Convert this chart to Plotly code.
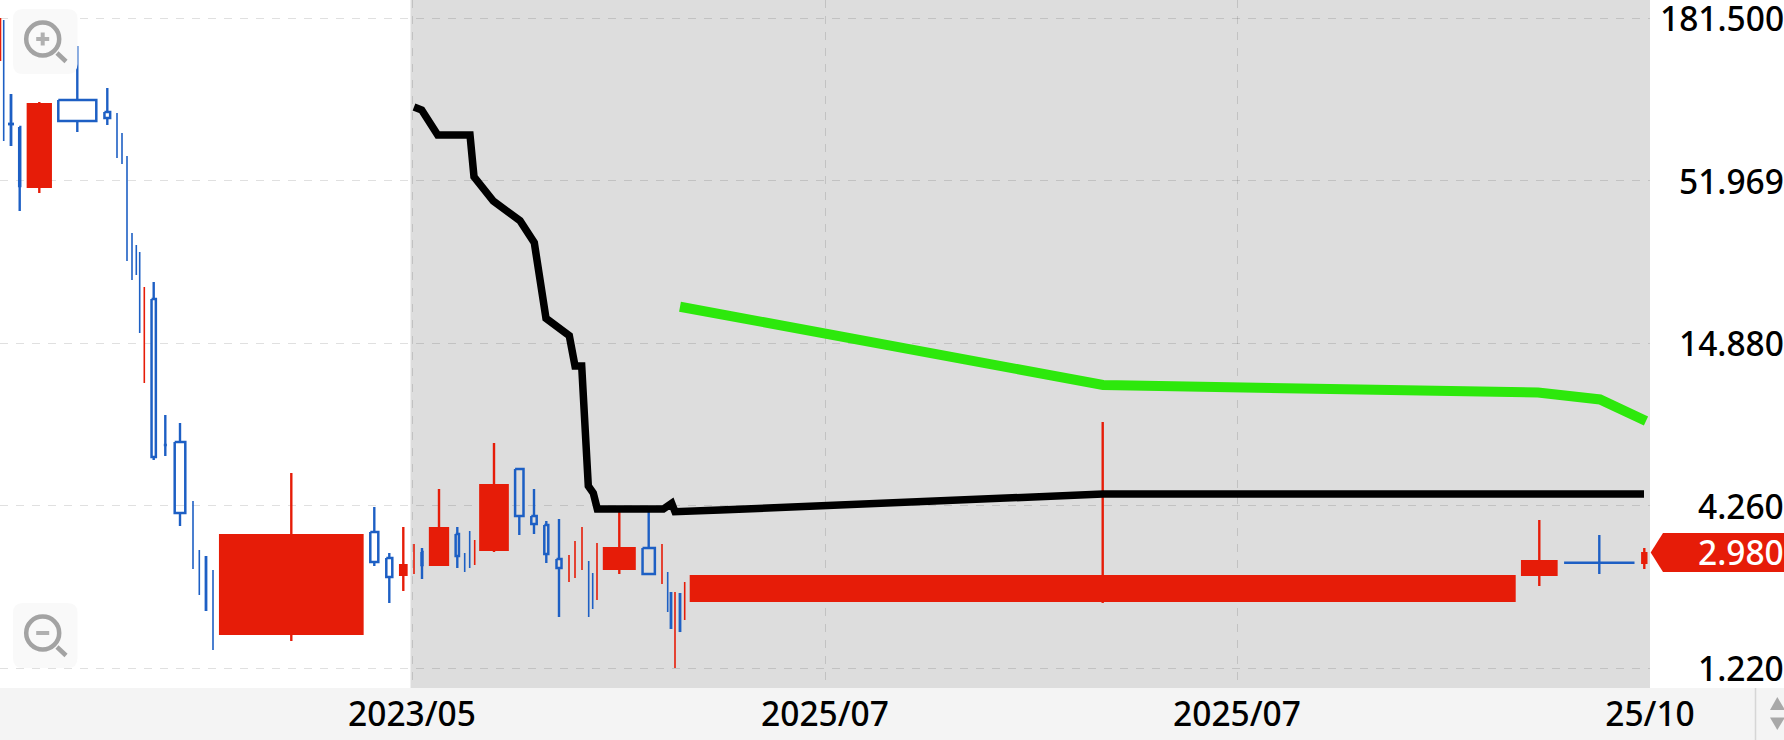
import math
import plotly.graph_objects as go

# Equivolume candles: position along the volume-scaled axis, and span of each bar
POSITION = [0.5,3.7,11,19.7,39.3,77.3,107.3,117,122,127,132,136.3,139.7,144.3,153.7,165.3,180,193,199.3,206,213,
            291.3,374.3,389.3,403.3,414,422,439,457.3,464.7,469.7,474.7,494,519.3,534,546.3,559,569,575,582,588.7,
            592.7,597,619.3,648.7,662,667.7,671,675,680,684.7,1102.7,1539.3,1599.3,1644.3]
SPAN = [1,1,2,3,25.3,40,7.7,1,1,1,1,1,1,1,6.3,5,12.6,1,1,2,1,
        144.7,10,8,8.7,1,3,20.3,5.3,1,1,1,29.7,10.4,7.4,6,7,1,1,1,1,
        1,1,33,14.3,1,1,2,1,2,1,826,36.7,72.4,6.4]
HIGH = [181.476,178.704,101.113,78.436,95.076,146.297,105.892,87.359,74.896,62.747,34.693,31.632,29.973,22.896,23.794,8.55,8.039,4.411,3.025,2.889,2.594,
        5.471,4.212,2.956,3.611,3.168,3.072,4.838,3.611,2.956,3.501,3.267,6.892,5.642,4.838,3.782,3.84,2.911,3.242,3.611,2.78,
        2.534,3.193,4.244,4.147,3.168,2.554,2.19,2.19,2.173,2.365,8.101,3.811,3.395,3.072]
LOW = [130.348,70.424,67.766,41.093,47.198,75.475,79.652,61.788,59.0,27.968,24.163,25.111,16.07,10.937,6.047,6.236,3.639,2.614,2.14,1.892,1.401,
       1.502,2.675,2.012,2.207,2.515,2.42,2.675,2.634,2.554,2.634,2.695,2.979,3.395,3.422,2.737,1.806,2.365,2.439,2.594,1.806,
       1.921,2.059,2.515,2.515,2.329,1.877,1.647,1.22,1.609,1.765,2.012,2.293,2.515,2.614]
BODY_TOP = [181.476,178.704,80.268,78.436,94.347,96.551,88.034,87.359,74.896,62.747,34.693,31.632,29.973,22.896,20.876,6.787,6.946,4.411,3.025,2.889,2.594,
            3.422,3.475,2.845,2.716,3.168,2.979,3.611,3.422,2.956,3.501,3.267,5.027,5.642,3.93,3.667,2.823,2.911,3.242,3.611,2.78,
            2.534,3.193,3.096,3.072,3.168,2.554,2.19,2.19,2.173,2.365,2.496,2.801,2.745,2.979]
BODY_BOTTOM = [130.348,70.424,80.268,49.811,49.05,82.143,84.061,61.788,59.0,27.968,24.163,25.111,16.07,10.937,6.188,6.787,4.022,2.614,2.14,1.892,1.401,
               1.573,2.758,2.458,2.477,2.515,2.695,2.675,2.889,2.554,2.634,2.695,3.002,3.93,3.695,2.933,2.634,2.365,2.439,2.594,1.806,
               1.921,2.059,2.594,2.515,2.329,1.877,1.647,1.22,1.609,1.765,2.027,2.477,2.73,2.716]
KIND = ["r","b","b","b","r","b","b","b","b","b","b","b","b","r","b","b","b","b","b","b","b",
        "r","b","b","r","r","b","r","b","b","b","r","r","b","b","b","b","r","r","r","b",
        "b","r","r","b","r","b","b","r","b","r","r","r","b","r"]

BLACK_X = [414,421.7,437.7,470,474,493.3,520,534.3,546,560,569.3,575,581.7,588.3,593.3,597.3,663.3,671.7,675,720,1103,1644]
BLACK_Y = [91.487,89.399,73.753,73.753,53.506,44.38,38.137,32.197,17.995,16.611,15.739,12.466,12.466,4.95,4.691,4.147,4.147,4.333,4.062,4.116,4.655,4.655]
GREEN_X = [680,1103,1538,1600,1646]
GREEN_Y = [19.675,10.77,10.166,9.633,8.164]

PRICE_TICKS = [181.5, 51.969, 14.88, 4.26, 1.22]
PRICE_LABELS = ["181.5000", "51.9690", "14.8800", "4.2600", "1.2200"]
LAST_PRICE = 2.98
LAST_LABEL = "2.9800"
DATE_TICKS = [412, 825, 1237, 1650]
DATE_LABELS = ["2023/05", "2025/07", "2025/07", "25/10"]

RED, BLUE, GREEN = "#e61c08", "#1d5fc4", "#2de80c"
W, H, PW, PH = 1784, 740, 1650, 688
FONT = "Noto Sans"
TEXT_SIZE = 33.5
TEXT_WEIGHT = 500
def X(px): return px / PW
def Y(py): return 1 - py / PH

fig = go.Figure()

def add_line(xs, ys, color, width, fill=None):
    fig.add_trace(go.Scatter(x=xs, y=ys, mode="lines", fill=fill, fillcolor=color if fill else None,
                             line=dict(color=color, width=width), hoverinfo="skip", showlegend=False))

thin_x, thin_y = {"r": [], "b": []}, {"r": [], "b": []}
mid_x, mid_y = {"r": [], "b": []}, {"r": [], "b": []}
wick_x, wick_y = {"r": [], "b": []}, {"r": [], "b": []}
hollow_x, hollow_y, solid_x, solid_y = [], [], [], []
for px, sp, hi, lo, top, bot, k in zip(POSITION, SPAN, HIGH, LOW, BODY_TOP, BODY_BOTTOM, KIND):
    if sp <= 2:
        tx, ty = (thin_x, thin_y) if sp <= 1 else (mid_x, mid_y)
        tx[k] += [px, px, None]
        ty[k] += [hi, lo, None]
        if top == bot:
            mid_x[k] += [px - 3, px + 3, None]; mid_y[k] += [top, top, None]
        continue
    wick_x[k] += [px, px, None, px, px, None]
    wick_y[k] += [hi, top, None, bot, lo, None]
    if k == "r":
        solid_x += [px - sp/2, px + sp/2, px + sp/2, px - sp/2, px - sp/2, None]
        solid_y += [top, top, bot, bot, top, None]
    else:
        h = max(sp - 2, 0.5) / 2
        hollow_x += [px - h, px + h, px + h, px - h, px - h, None]
        hollow_y += [top, top, bot, bot, top, None]

add_line(solid_x, solid_y, RED, 0, fill="toself")
for k, c in (("r", RED), ("b", BLUE)):
    add_line(thin_x[k], thin_y[k], c, 1.6)
    add_line(mid_x[k], mid_y[k], c, 2.8)
    add_line(wick_x[k], wick_y[k], c, 2.4)
add_line(hollow_x, hollow_y, BLUE, 2.5)
add_line(BLACK_X, BLACK_Y, "#000000", 7.5)
add_line(GREEN_X, GREEN_Y, GREEN, 10)

shapes = [
    dict(type="rect", xref="paper", yref="paper", x0=X(410.5), x1=1, y0=0, y1=1,
         fillcolor="#dddddd", line_width=0, layer="below"),
    dict(type="rect", xref="paper", yref="paper", x0=0, x1=X(W), y0=Y(H), y1=Y(PH),
         fillcolor="#f4f4f4", line_width=0, layer="below"),
    dict(type="line", xref="paper", yref="paper", x0=X(1755.5), x1=X(1755.5), y0=Y(688), y1=Y(H),
         line=dict(color="#d6d6d6", width=1.5)),
    dict(type="path", xref="paper", yref="paper",
         path=f"M {X(1770)} {Y(710)} L {X(1777.3)} {Y(697)} L {X(1785)} {Y(710)} Z", fillcolor="#a8a8a8", line_width=0),
    dict(type="path", xref="paper", yref="paper",
         path=f"M {X(1770)} {Y(717.5)} L {X(1777.3)} {Y(730)} L {X(1785)} {Y(717.5)} Z", fillcolor="#a8a8a8", line_width=0),
    dict(type="path", xref="paper", yref="paper",
         path=f"M {X(1650.7)} {Y(552.5)} L {X(1663)} {Y(533)} L {X(W)} {Y(533)} L {X(W)} {Y(572)} L {X(1663)} {Y(572)} Z",
         fillcolor=RED, line_width=0),
]

def zoom_icon(top, plus):
    l, r, b = 13, 77.5, top + 65
    c = 10
    shapes.append(dict(type="path", xref="paper", yref="paper",
        path=(f"M {X(l+c)} {Y(top)} L {X(r-c)} {Y(top)} Q {X(r)} {Y(top)} {X(r)} {Y(top+c)} "
              f"L {X(r)} {Y(b-c)} Q {X(r)} {Y(b)} {X(r-c)} {Y(b)} L {X(l+c)} {Y(b)} "
              f"Q {X(l)} {Y(b)} {X(l)} {Y(b-c)} L {X(l)} {Y(top+c)} Q {X(l)} {Y(top)} {X(l+c)} {Y(top)} Z"),
        fillcolor="#f9f9f9", line_width=0))
    cx, cy = 42.7, top + 30
    rad = 16.5
    shapes.append(dict(type="circle", xref="paper", yref="paper", x0=X(cx-rad), x1=X(cx+rad), y0=Y(cy+rad), y1=Y(cy-rad),
                       line=dict(color="#a3a3a3", width=4.5)))
    shapes.append(dict(type="line", xref="paper", yref="paper", x0=X(57), x1=X(66), y0=Y(cy+14), y1=Y(cy+22.5),
                       line=dict(color="#a3a3a3", width=4.5)))
    shapes.append(dict(type="line", xref="paper", yref="paper", x0=X(cx-6.5), x1=X(cx+6.5), y0=Y(cy), y1=Y(cy),
                       line=dict(color="#b0b0b0", width=4)))
    if plus:
        shapes.append(dict(type="line", xref="paper", yref="paper", x0=X(cx), x1=X(cx), y0=Y(cy-6.5), y1=Y(cy+6.5),
                           line=dict(color="#b0b0b0", width=4)))

zoom_icon(9, True)
zoom_icon(603, False)

annotations = [dict(xref="paper", yref="y", x=X(1805), y=math.log10(v), text=t, showarrow=False, xanchor="right",
                    yanchor="middle", font=dict(family=FONT, size=TEXT_SIZE, weight=TEXT_WEIGHT, color="#000000"))
               for v, t in zip(PRICE_TICKS, PRICE_LABELS)]
annotations.append(dict(xref="paper", yref="y", x=X(1805), y=math.log10(LAST_PRICE), text=LAST_LABEL, showarrow=False,
                        xanchor="right", yanchor="middle",
                        font=dict(family=FONT, size=TEXT_SIZE, weight=TEXT_WEIGHT, color="#ffffff")))

span = 299.2
top_log = math.log10(181.5) + 18 / span
bot_log = math.log10(1.22) - 20 / span
grid = dict(gridcolor="rgba(0,0,0,0.12)", griddash="8px,8px", gridwidth=1, showgrid=True, zeroline=False,
            showline=False, ticks="")
fig.update_layout(
    width=W, height=H, margin=dict(l=0, r=W - PW, t=0, b=H - PH),
    paper_bgcolor="#ffffff", plot_bgcolor="rgba(0,0,0,0)", showlegend=False,
    shapes=shapes, annotations=annotations,
    xaxis=dict(range=[0, PW], tickmode="array", tickvals=DATE_TICKS, ticktext=DATE_LABELS, ticklabelstandoff=3,
               tickfont=dict(family=FONT, size=TEXT_SIZE, weight=TEXT_WEIGHT, color="#000000"), **grid),
    yaxis=dict(type="log", range=[bot_log, top_log], tickmode="array", tickvals=PRICE_TICKS,
               showticklabels=False, **grid),
)
fig.write_html("out.html", config=dict(displayModeBar=False),
               post_script="document.body.style.margin='0';document.body.style.overflow='hidden';")
